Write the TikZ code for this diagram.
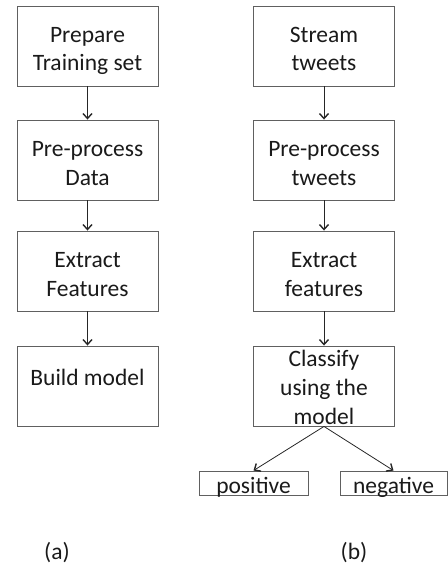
\documentclass[tikz,border=0pt]{standalone}
\usepackage{fontspec}
\setmainfont{Carlito}
\usetikzlibrary{arrows.meta}
\definecolor{boxline}{HTML}{606060}
\definecolor{txt}{HTML}{1A1A1A}
\begin{document}
\begin{tikzpicture}[x=1pt,y=-1pt,
  stepbox/.style={draw=boxline,line width=0.9pt,minimum width=141pt,minimum height=80pt,inner sep=0pt},
  leafbox/.style={draw=boxline,line width=0.9pt,minimum height=24pt,inner sep=0pt},
  lbl/.style={font=\fontsize{23.5}{28.8}\selectfont,text=txt,inner sep=0pt,align=center,anchor=base},
  arr/.style={draw=black!85,line width=0.8pt,-{Straight Barb[length=5pt,width=9pt,line width=1.4pt]}}]
\useasboundingbox (0,0) rectangle (447,572);
% (a)
\node[stepbox] (a1) at (87.5,46) {};
\node[stepbox] (a2) at (87.5,160) {};
\node[stepbox] (a3) at (87.5,271) {};
\node[stepbox] (a4) at (87.5,386) {};
\node[lbl] (a1t) at (87.5,71) {Prepare\\Training set};
\node[lbl] (a2t) at (87.5,185) {Pre-process\\Data};
\node[lbl] (a3t) at (87.5,296) {Extract\\Features};
\node[lbl] (a4t) at (87.5,385) {Build model};
\draw[arr] (a1) -- (a2);
\draw[arr] (a2) -- (a3);
\draw[arr] (a3) -- (a4);
% (b)
\node[stepbox] (b1) at (324,46) {};
\node[stepbox] (b2) at (324,160) {};
\node[stepbox] (b3) at (324,271) {};
\node[stepbox] (b4) at (324,386) {};
\node[lbl] (b1t) at (324,71) {Stream\\tweets};
\node[lbl] (b2t) at (324,185) {Pre-process\\tweets};
\node[lbl] (b3t) at (324,296) {Extract\\features};
\node[lbl] (b4t) at (324,424) {Classify\\using the\\model};
\draw[arr] (b1) -- (b2);
\draw[arr] (b2) -- (b3);
\draw[arr] (b3) -- (b4);
\node[leafbox,minimum width=109pt] (pos) at (253.5,483) {};
\node[leafbox,minimum width=107pt] (neg) at (393.5,483) {};
\node[lbl] (post) at (253.5,493) {positive};
\node[lbl] (negt) at (393.5,493) {negative};
\draw[arr] (b4.south) -- (pos.north);
\draw[arr] (b4.south) -- (neg.north);
% captions
\node[lbl] (capa) at (57,559) {(a)};
\node[lbl] (capb) at (354,559) {(b)};
\end{tikzpicture}
\end{document}
